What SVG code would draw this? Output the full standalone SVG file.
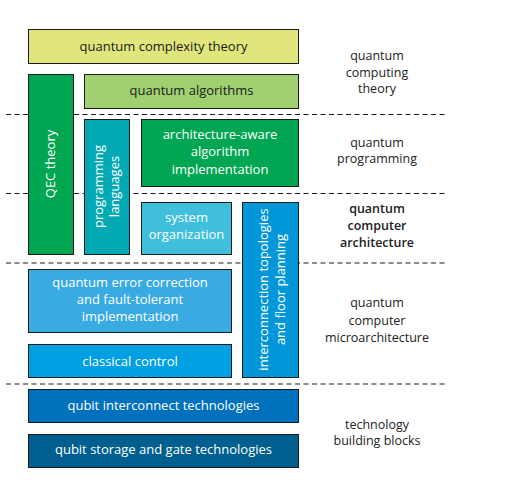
<svg xmlns="http://www.w3.org/2000/svg" width="506" height="483" viewBox="0 0 506 483">
<style>
.bx{stroke:#1a1a1a;stroke-width:1}
.t{font-family:"Open Sans","DejaVu Sans",sans-serif;font-size:13px;fill:#ffffff;text-anchor:middle}
.dk{fill:#1a1a1a}
.lb{font-family:"Open Sans","DejaVu Sans",sans-serif;font-size:12.5px;fill:#222222;text-anchor:middle}
.bd{font-weight:600}
.dash{stroke:#1a1a1a;stroke-width:1.2;stroke-dasharray:5 3.5;fill:none}
</style>
<rect width="506" height="483" fill="#ffffff"/>
<g id="connectors">
<line class="dash" x1="6" y1="114.5" x2="445" y2="114.5"/>
<line class="dash" x1="6" y1="193.5" x2="445" y2="193.5"/>
<line class="dash" x1="6" y1="263" x2="445" y2="263"/>
<line class="dash" x1="6" y1="384" x2="445" y2="384"/>
</g>
<g id="quantum-complexity-theory">
<rect class="bx" x="28.5" y="29.5" width="270" height="34" fill="#e0e67b"/>
<text class="t dk" x="163.5" y="51">quantum complexity theory</text>
</g>
<g id="quantum-algorithms">
<rect class="bx" x="84.5" y="74.5" width="214" height="34" fill="#a0d070"/>
<text class="t dk" x="191.5" y="95">quantum algorithms</text>
</g>
<g id="qec-theory">
<rect class="bx" x="28.5" y="74.5" width="45" height="180" fill="#00a651"/>
<text class="t" transform="translate(50.5,164) rotate(-90)" x="0" y="4.5">QEC theory</text>
</g>
<g id="programming-languages">
<rect class="bx" x="84.5" y="119.5" width="45" height="135" fill="#00a9b3"/>
<text class="t" transform="translate(106.5,186.5) rotate(-90)"><tspan x="0" y="-3.5">programming</tspan><tspan x="0" y="12.5">languages</tspan></text>
</g>
<g id="architecture-aware">
<rect class="bx" x="141.5" y="119.5" width="157" height="67" fill="#00a651"/>
<text class="t"><tspan x="220" y="138.5">architecture-aware</tspan><tspan x="220" y="156">algorithm</tspan><tspan x="220" y="173.5">implementation</tspan></text>
</g>
<g id="system-organization">
<rect class="bx" x="141.5" y="202.5" width="90" height="52" fill="#40bfdc"/>
<text class="t"><tspan x="186.5" y="221.5">system</tspan><tspan x="186.5" y="239">organization</tspan></text>
</g>
<g id="interconnection-topologies">
<rect class="bx" x="242.5" y="202.5" width="56" height="175" fill="#0096d8"/>
<text class="t" transform="translate(271.5,289.5) rotate(-90)"><tspan x="0" y="-3.8">interconnection topologies</tspan><tspan x="0" y="13">and floor planning</tspan></text>
</g>
<g id="qec-fault-tolerant">
<rect class="bx" x="28.5" y="269.5" width="203" height="63" fill="#3aaae2"/>
<text class="t"><tspan x="130" y="286.5">quantum error correction</tspan><tspan x="130" y="304">and fault-tolerant</tspan><tspan x="130" y="321">implementation</tspan></text>
</g>
<g id="classical-control">
<rect class="bx" x="28.5" y="344.5" width="203" height="33" fill="#00a0e2"/>
<text class="t" x="130" y="365.5">classical control</text>
</g>
<g id="qubit-interconnect">
<rect class="bx" x="28.5" y="389.5" width="270" height="33" fill="#0071bd"/>
<text class="t" x="163.5" y="409.5">qubit interconnect technologies</text>
</g>
<g id="qubit-storage">
<rect class="bx" x="28.5" y="434.5" width="270" height="33" fill="#005f8e"/>
<text class="t" x="163.5" y="453.5">qubit storage and gate technologies</text>
</g>
<g id="layer-labels">
<text class="lb"><tspan x="377" y="60">quantum</tspan><tspan x="377" y="76.7">computing</tspan><tspan x="377" y="93.3">theory</tspan></text>
<text class="lb"><tspan x="377" y="146.7">quantum</tspan><tspan x="377" y="163.3">programming</tspan></text>
<text class="lb bd"><tspan x="377" y="213.3">quantum</tspan><tspan x="377" y="230">computer</tspan><tspan x="377" y="247.3">architecture</tspan></text>
<text class="lb"><tspan x="377" y="307.3">quantum</tspan><tspan x="377" y="325">computer</tspan><tspan x="377" y="341.7">microarchitecture</tspan></text>
<text class="lb"><tspan x="377" y="429.3">technology</tspan><tspan x="377" y="445.3">building blocks</tspan></text>
</g>
</svg>
